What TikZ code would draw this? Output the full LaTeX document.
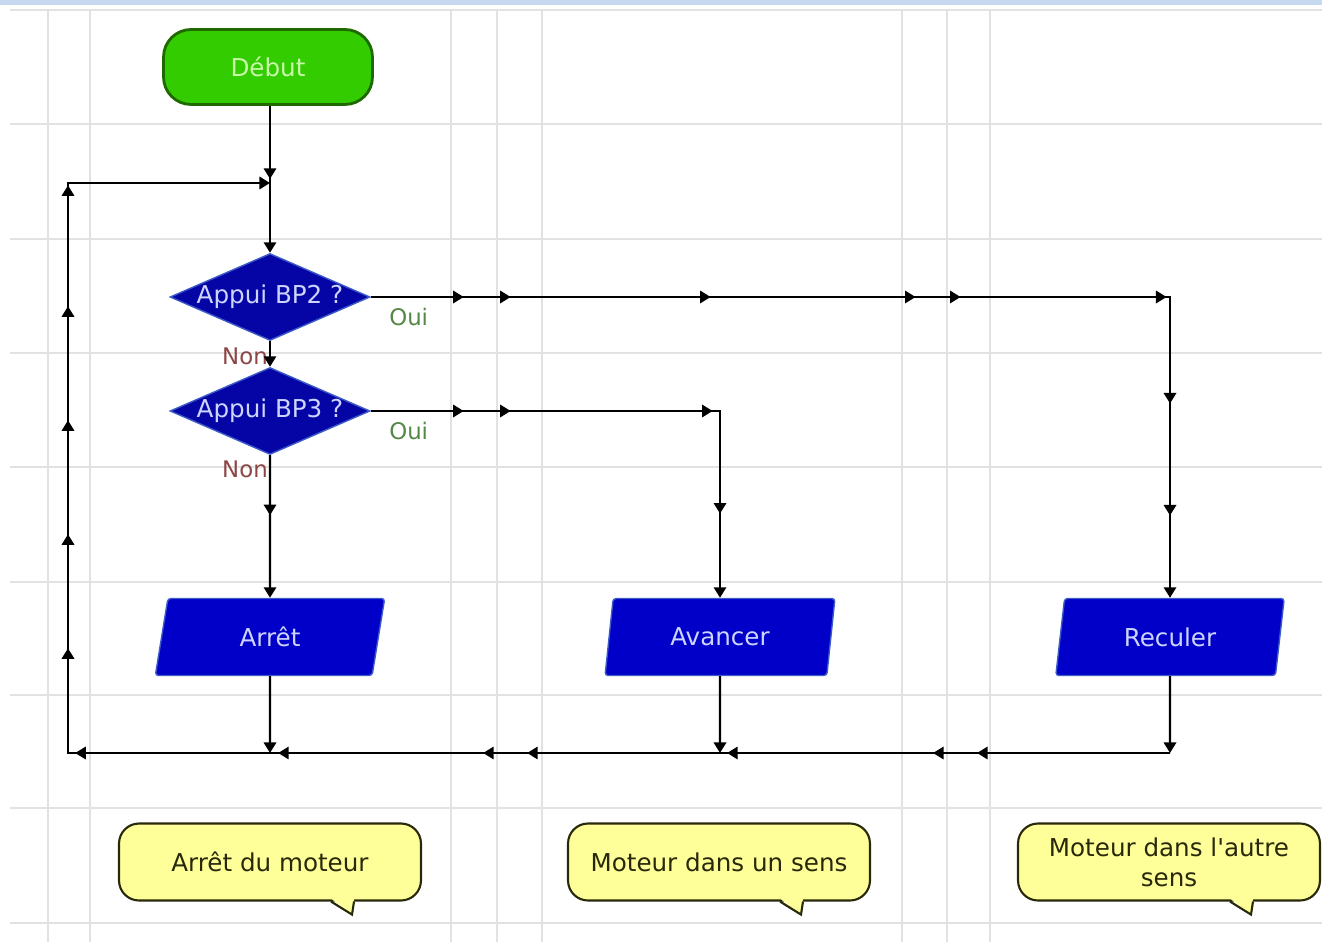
\documentclass[tikz,border=0pt]{standalone}
\usepackage{fontspec}
\setmainfont{DejaVu Sans}
\usetikzlibrary{positioning}
\usetikzlibrary{calc}
\usetikzlibrary{shapes.geometric}
\usetikzlibrary{arrows.meta}
\usetikzlibrary{decorations.markings}

\definecolor{gridgray}{RGB}{226,226,226}
\definecolor{bandblue}{RGB}{198,217,241}
\definecolor{startgreen}{RGB}{51,204,0}
\definecolor{startdark}{RGB}{30,105,0}
\definecolor{starttext}{RGB}{200,248,170}
\definecolor{askblue}{RGB}{5,5,165}
\definecolor{actblue}{RGB}{0,0,200}
\definecolor{rimblue}{RGB}{60,90,200}
\definecolor{lighttext}{RGB}{205,212,255}
\definecolor{ouigreen}{RGB}{85,135,70}
\definecolor{nonred}{RGB}{140,70,70}
\definecolor{notefill}{RGB}{255,255,153}
\definecolor{notedraw}{RGB}{40,40,10}

\tikzset{tri/.tip={Triangle[length=6pt,width=7pt]}}
\pgfkeys{/pgf/decoration/tipat/.style={mark=at position #1 with {\arrow{tri}}}}

\begin{document}
\begin{tikzpicture}[x=0.02cm,y=-0.02cm,font=\fontsize{14}{17}\selectfont]
		\tikzset{gridline/.style = {draw=gridgray,line width=0.6pt}}
		\tikzset{startbox/.style = {shape=rectangle,rounded corners=0.55cm,fill=startgreen,draw=startdark,line width=1.6pt,text=starttext,minimum width=4.18cm,minimum height=1.5cm}}
		\tikzset{ask/.style = {shape=diamond,fill=askblue,draw=rimblue,line width=0.8pt,inner sep=0pt,minimum width=4cm,minimum height=1.74cm,label={[text=lighttext]center:#1}}}
		\tikzset{act/.style = {shape=trapezium,trapezium left angle=82,trapezium right angle=98,trapezium stretches=true,fill=actblue,draw=rimblue,line width=0.8pt,rounded corners=0.06cm,text=lighttext,minimum width=4.6cm,minimum height=1.54cm}}
		\tikzset{note/.style = {shape=rectangle,rounded corners=0.4cm,fill=notefill,draw=notedraw,line width=1.2pt,text=notedraw,minimum width=6.04cm,minimum height=1.54cm,align=center}}
		\tikzset{oui/.style = {text=ouigreen,font=\fontsize{13}{15}\selectfont}}
		\tikzset{non/.style = {text=nonred,font=\fontsize{13}{15}\selectfont}}
		\tikzset{edge/.style = {line width=1.35pt,-tri}}
		\tikzset{tips/.style = {postaction={decorate,decoration={markings,tipat/.list={#1}}}}}
		\useasboundingbox (0,0) rectangle (1322,942);
		% background grid
		\fill[bandblue] (0,0) rectangle (1322,5);
		\foreach \gx in {48,90,451,497,542,902,947,990}
			\draw[gridline] (\gx,10) -- (\gx,942);
		\foreach \gy in {10,124,239,353,467,582,695,808,923}
			\draw[gridline] (10,\gy) -- (1322,\gy);
		% vertices
		\node[startbox] (debut) at (268,67) {Début};
		\node[ask={Appui BP2 ?}] (q2) at (270,297) {};
		\node[ask={Appui BP3 ?}] (q3) at (270,411) {};
		\node[act] (arret) at (270,637) {Arrêt};
		\node[act] (avancer) at (720,637) {Avancer};
		\node[act] (reculer) at (1170,637) {Reculer};
		
		\node[oui] (oui2) at ([shift={(38,20)}]q2.east) {Oui};
		\node[oui] (oui3) at ([shift={(38,20)}]q3.east) {Oui};
		\node[non] (non2) at ([shift={(-25,15)}]q2.south) {Non};
		\node[non] (non3) at ([shift={(-25,14)}]q3.south) {Non};
		
		\node[note] (n1) at (270,862) {Arrêt du moteur};
		\node[note] (n2) at (719,862) {Moteur dans un sens};
		\node[note] (n3) at (1169,862) {Moteur dans l\textquotesingle autre\\sens};
		\foreach \n in {n1,n2,n3}{
			\fill[notefill] ([shift={(61,-3)}]\n.south) -- ++(21,16) -- ++(2,-16) -- cycle;
			\draw[notedraw,line width=1.2pt] ([shift={(61,0)}]\n.south) -- ++(21,13) -- ++(2,-13);
		}
		
		\coordinate (join) at (270,183);
		\coordinate (tl) at (68,183);
		\coordinate (bl) at (68,753);
		\coordinate (b1) at (270,753);
		\coordinate (b2) at (720,753);
		\coordinate (b3) at (1170,753);
		
		%edges
		\draw[edge,tips={1.46cm}] (debut.south -| q2) -- (q2);
		\draw[edge] (q2) -- (q3);
		\draw[edge,tips={1.86cm,2.8cm,6.8cm,10.9cm,11.8cm,15.92cm,18.12cm,20.36cm}] (q2.east) -| (reculer.north);
		\draw[edge,tips={1.86cm,2.8cm,6.84cm,9.04cm}] (q3.east) -| (avancer.north);
		\draw[edge,tips={1.2cm}] (q3) -- (arret);
		
		\draw[edge] (arret) -- (b1);
		\draw[edge] (avancer) -- (b2);
		\draw[edge] (reculer) -- (b3);
		
		\draw[edge,tips={3.86cm,4.74cm,8.86cm,12.86cm,13.74cm,17.84cm,21.9cm,24.14cm,26.42cm,28.7cm,30.98cm,33.4cm}]
			(b3) -- (bl) -- (tl) -- (join);
\end{tikzpicture}
\end{document}
